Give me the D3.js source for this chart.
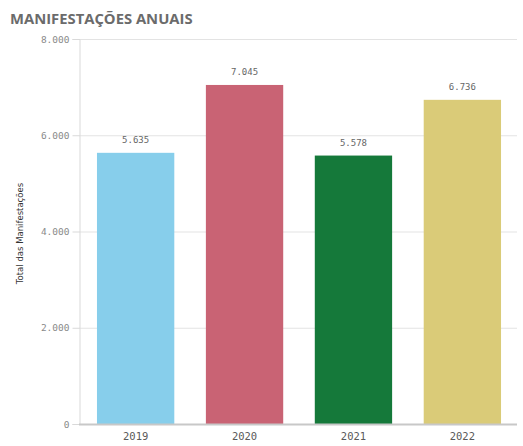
<!DOCTYPE html>
<html>
<head>
<meta charset="utf-8">
<script src="https://cdn.jsdelivr.net/npm/d3@7"></script>
<style>
  html, body { margin: 0; padding: 0; background: #fff; }
  svg { display: block; }
</style>
</head>
<body>
<script>
// Annual totals of citizen manifestations
const years = ["2019", "2020", "2021", "2022"];
const totals = [5635, 7045, 5578, 6736];
const barColors = ["#87ceeb", "#c96374", "#15793a", "#dacb78"];
const yTicks = [0, 2000, 4000, 6000, 8000];

const W = 523, H = 446;
const margin = { left: 79, right: 4, top: 39, bottom: 22 };
const yBottom = 424;

const svg = d3.select("body").append("svg")
  .attr("width", W).attr("height", H);

const fmt = d3.formatLocale({ decimal: ",", thousands: ".", grouping: [3], currency: ["R$", ""] }).format(",d");

const x = d3.scaleBand()
  .domain(years)
  .range([margin.left, 519])
  .paddingInner(0.29)
  .paddingOuter(0.165);

const y = d3.scaleLinear()
  .domain([0, 8000])
  .range([yBottom, margin.top]);

const mono = "'DejaVu Sans Mono', 'Liberation Mono', monospace";

// Title
svg.append("text")
  .attr("x", 10).attr("y", 24)
  .attr("font-family", "'Open Sans', sans-serif")
  .attr("font-weight", 700)
  .attr("font-size", 14.8)
  .attr("fill", "#6b6b6b")
  .text("MANIFESTAÇÕES ANUAIS");

// Horizontal gridlines
svg.append("g")
  .selectAll("line")
  .data(yTicks.filter(d => d > 0))
  .join("line")
  .attr("x1", margin.left).attr("x2", 517)
  .attr("y1", d => y(d) + 0.5).attr("y2", d => y(d) + 0.5)
  .attr("stroke", "#e3e3e3").attr("stroke-width", 1);

// Y axis
const yAxis = svg.append("g")
  .attr("transform", `translate(${margin.left + 0.5},0)`)
  .call(d3.axisLeft(y).tickValues(yTicks).tickFormat(fmt).tickSize(7).tickPadding(3));
yAxis.select(".domain").attr("stroke", "#d9d9d9");
yAxis.selectAll(".tick line").attr("stroke", "#d9d9d9");
yAxis.selectAll(".tick text")
  .attr("font-family", mono).attr("font-size", 9.5).attr("fill", "#8a8a8a");

// Y axis title
svg.append("text")
  .attr("transform", `translate(23,${(margin.top + yBottom) / 2 + 2}) rotate(-90)`)
  .attr("text-anchor", "middle")
  .attr("font-family", "'DejaVu Sans', sans-serif")
  .attr("font-size", 8.5)
  .attr("fill", "#333")
  .text("Total das Manifestações");

// Bars
svg.append("g")
  .selectAll("rect")
  .data(years)
  .join("rect")
  .attr("x", d => x(d))
  .attr("width", x.bandwidth())
  .attr("y", (d, i) => y(totals[i]))
  .attr("height", (d, i) => yBottom - y(totals[i]))
  .attr("fill", (d, i) => barColors[i]);

// Value labels
svg.append("g")
  .selectAll("text")
  .data(years)
  .join("text")
  .attr("x", d => x(d) + x.bandwidth() / 2)
  .attr("y", (d, i) => y(totals[i]) - 10)
  .attr("text-anchor", "middle")
  .attr("font-family", mono)
  .attr("font-size", 9)
  .attr("fill", "#666")
  .text((d, i) => fmt(totals[i]));

// X axis
const xAxis = svg.append("g")
  .attr("transform", `translate(0,${yBottom})`)
  .call(d3.axisBottom(x).tickSize(0).tickPadding(9));
xAxis.select(".domain").attr("stroke", "#c8c8c8").attr("stroke-width", 2)
  .attr("d", `M${margin.left},0.5H517`);
xAxis.selectAll(".tick text")
  .attr("font-family", mono).attr("font-size", 10.5).attr("fill", "#595959");
</script>
</body>
</html>
